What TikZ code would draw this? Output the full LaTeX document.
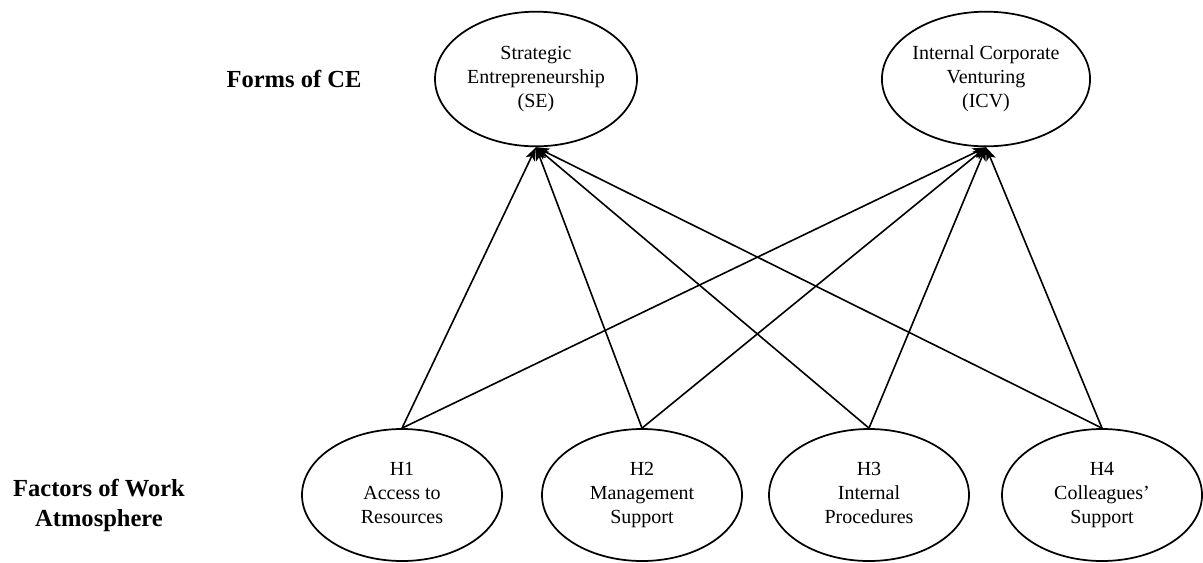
\documentclass[tikz,border=0pt]{standalone}
\usepackage{fontspec}
\setmainfont{Liberation Serif}
\usetikzlibrary{shapes.geometric,arrows.meta}
\begin{document}
\begin{tikzpicture}[x=0.75pt,y=-0.75pt,
  construct/.style={ellipse,draw,line width=1.3pt,inner sep=0pt,
    minimum width=151.5pt,minimum height=101pt,align=center,
    font=\fontsize{15}{18}\selectfont},
  factor/.style={construct,minimum width=150pt,minimum height=99pt},
  rowlabel/.style={align=center,font=\fontsize{18.4}{22.5}\selectfont\bfseries},
  link/.style={line width=1.2pt,-{Stealth[length=10pt,width=7.5pt,inset=2.5pt]}}]
\useasboundingbox (0,0) rectangle (1203,562);

% row labels
\node[rowlabel] (formslbl) at (294,79) {Forms of CE};
\node[rowlabel] (factlbl) at (99,505) {\strut Factors of Work\\Atmosphere\strut};

% forms of corporate entrepreneurship
\node[construct] (se) at (536,79) {\strut Strategic\\Entrepreneurship\\(SE)\strut};
\node[construct] (icv) at (986,79) {\strut Internal Corporate\\Venturing\\(ICV)\strut};

% work atmosphere factors
\node[factor] (h1) at (402,495) {\strut H1\\Access to\\Resources\strut};
\node[factor] (h2) at (642,495) {\strut H2\\Management\\Support\strut};
\node[factor] (h3) at (869,495) {\strut H3\\Internal\\Procedures\strut};
\node[factor] (h4) at (1102,495) {\strut H4\\Colleagues’\\Support\strut};

% hypothesised paths
\foreach \f in {h1,h2,h3,h4}{
  \draw[link] (\f.north) -- (se.south);
  \draw[link] (\f.north) -- (icv.south);
}
\end{tikzpicture}
\end{document}
